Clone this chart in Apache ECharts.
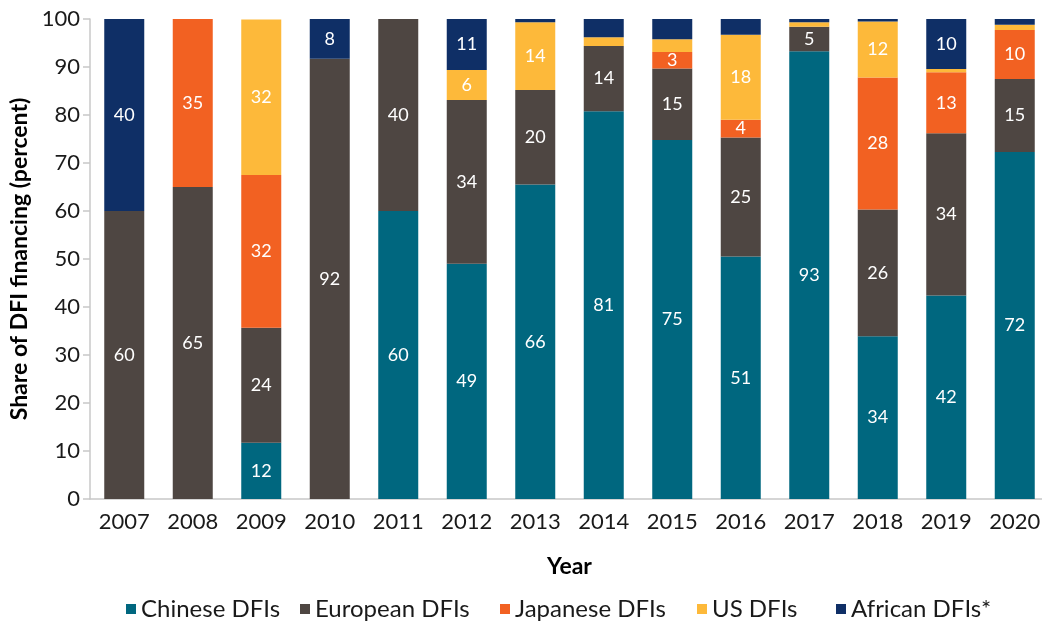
<!DOCTYPE html>
<html>
<head>
<meta charset="utf-8">
<script src="https://cdn.jsdelivr.net/npm/echarts@6/dist/echarts.min.js"></script>
<style>html,body{margin:0;padding:0;background:#fff}#c{width:1042px;height:623px}</style>
</head>
<body>
<div id="c"></div>
<script>
const years = ['2007','2008','2009','2010','2011','2012','2013','2014','2015','2016','2017','2018','2019','2020'];
const chinese  = [0, 0, 11.7, 0, 60, 49, 65.5, 80.8, 74.8, 50.5, 93.3, 33.9, 42.4, 72.3];
const european = [60, 65, 24, 91.7, 40, 34.1, 19.7, 13.6, 14.9, 24.8, 5.1, 26.4, 33.8, 15.2];
const japanese = [0, 35, 31.8, 0, 0, 0, 0, 0, 3.4, 3.7, 0, 27.5, 12.7, 10.2];
const us       = [0, 0, 32.4, 0, 0, 6.3, 14.1, 1.8, 2.7, 17.7, 0.9, 11.7, 0.7, 1.1];
const african  = [40, 0, 0, 8.3, 0, 10.6, 0.7, 3.8, 4.2, 3.3, 0.7, 0.5, 10.4, 1.2];
const seriesNames = ['Chinese DFIs','European DFIs','Japanese DFIs','US DFIs','African DFIs*'];
const colors = ['#00677F','#4E4642','#F26122','#FDB93A','#0F2F66'];
const minLabel = [5, 5, 3, 5, 5];
const legendLeft = [121, 295, 495, 692, 831];

const font = 'Lato, "Noto Sans", sans-serif';
const chart = echarts.init(document.getElementById('c'));
const dataSets = [chinese, european, japanese, us, african];
chart.setOption({
  animation: false,
  textStyle: { fontFamily: font },
  grid: { left: 90, top: 19, bottom: 124, width: 959, outerBoundsMode: 'none', containLabel: false },
  legend: seriesNames.map((n, i) => ({
    data: [n], top: 592, left: legendLeft[i],
    itemWidth: 10, itemHeight: 10, itemGap: 0,
    icon: 'rect',
    textStyle: { fontSize: 24, color: '#1a1a1a', fontFamily: font }
  })),
  xAxis: {
    type: 'category', data: years,
    name: 'Year', nameLocation: 'middle', nameGap: 56,
    nameTextStyle: { fontSize: 23, fontWeight: 'bold', color: '#000', fontFamily: font },
    axisLine: { lineStyle: { color: '#c8c8c8', width: 1.5 } },
    axisTick: { show: false },
    axisLabel: { fontSize: 22, color: '#1a1a1a', margin: 12, fontFamily: font }
  },
  yAxis: {
    type: 'value', min: 0, max: 100, interval: 10,
    name: 'Share of DFI financing (percent)', nameLocation: 'middle', nameGap: 54,
    nameTextStyle: { fontSize: 23, fontWeight: 'bold', color: '#000', fontFamily: font },
    axisLine: { show: true, lineStyle: { color: '#c8c8c8', width: 1.5 } },
    axisTick: { show: true, length: 7, lineStyle: { color: '#c8c8c8', width: 1.5 } },
    splitLine: { show: false },
    axisLabel: { fontSize: 22, color: '#1a1a1a', margin: 10, fontFamily: font }
  },
  series: seriesNames.map((n, i) => ({
    name: n, type: 'bar', stack: 'total', barWidth: 40,
    data: dataSets[i],
    itemStyle: { color: colors[i] },
    label: {
      show: true, position: 'inside', color: '#fff', fontSize: 18, fontFamily: font,
      formatter: p => (p.value >= minLabel[i] ? String(Math.round(p.value)) : '')
    }
  }))
});
</script>
</body>
</html>
